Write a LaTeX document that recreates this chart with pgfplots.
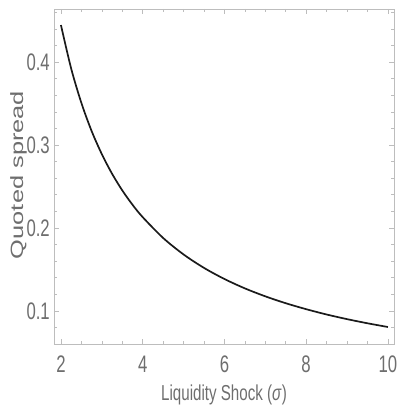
\documentclass[border=0pt]{standalone}
\usepackage{fontspec}
\setmainfont{Liberation Sans}[FakeStretch=0.7]
\newfontfamily\plainsans{Liberation Sans}
\usepackage{pgfplots}
\pgfplotsset{compat=1.18}
\definecolor{framegray}{HTML}{BDBDBD}
\definecolor{labelgray}{HTML}{6E6E6E}
\definecolor{curveblack}{HTML}{1A1A1A}
\begin{document}
\begin{tikzpicture}
\begin{axis}[
  scale only axis,
  width=340bp, height=335bp,
  xmin=1.83, xmax=10.15,
  ymin=0.06, ymax=0.464,
  axis line style={framegray, line width=0.8bp},
  xtick={2,4,6,8,10},
  ytick={0.1,0.2,0.3,0.4},
  minor xtick={2.5,3,3.5,4.5,5,5.5,6.5,7,7.5,8.5,9,9.5},
  minor ytick={0.06,0.08,0.12,0.14,0.16,0.18,0.22,0.24,0.26,0.28,0.32,0.34,0.36,0.38,0.42,0.44,0.46},
  tick align=inside,
  major tick length=5bp,
  minor tick length=3bp,
  every tick/.style={framegray, line width=0.6bp},
  /pgf/number format/assume math mode=true,
  /pgf/number format/fixed,
  /pgf/number format/precision=1,
  ticklabel style={font=\fontsize{24}{27}\selectfont, text=labelgray},
  xticklabel style={inner sep=0pt, anchor=north, yshift=-11.5bp},
  yticklabel style={inner sep=0pt, anchor=east, xshift=-4bp},
  yticklabels={0.1,0.2,0.3,0.4},
  xlabel={Liquidity Shock (\textit{σ})},
  xlabel style={font=\fontsize{21.7}{24}\selectfont, text=labelgray, at={(axis description cs:0.5,0)}, anchor=base, inner sep=0pt, yshift=-56bp},
  ylabel={Quoted spread},
  every axis y label/.style={font=\plainsans\fontsize{25.5}{28}\selectfont, text=labelgray, at={(axis description cs:0,0.5)}, anchor=center, inner sep=0pt, xshift=-35.5bp, yshift=1.5bp, rotate=90, yscale=0.7},
  clip=false,
]
\addplot[curveblack, line width=1.7bp, smooth] coordinates {
(2.00,0.4446) (2.25,0.3922) (2.50,0.3507) (2.75,0.3169) (3.00,0.2890)
(3.25,0.2654) (3.50,0.2453) (3.75,0.2280) (4.00,0.2130) (4.50,0.1879)
(5.00,0.1680) (5.50,0.1518) (6.00,0.1384) (6.50,0.1271) (7.00,0.1175)
(7.50,0.1092) (8.00,0.1020) (8.50,0.0956) (9.00,0.0900) (9.50,0.0850)
(10.00,0.0805)
};
\end{axis}
\pgfresetboundingbox
\path[use as bounding box] ([shift={(-54bp,-65bp)}]current axis.south west) rectangle ([shift={(4bp,9bp)}]current axis.north east);
\end{tikzpicture}
\end{document}
